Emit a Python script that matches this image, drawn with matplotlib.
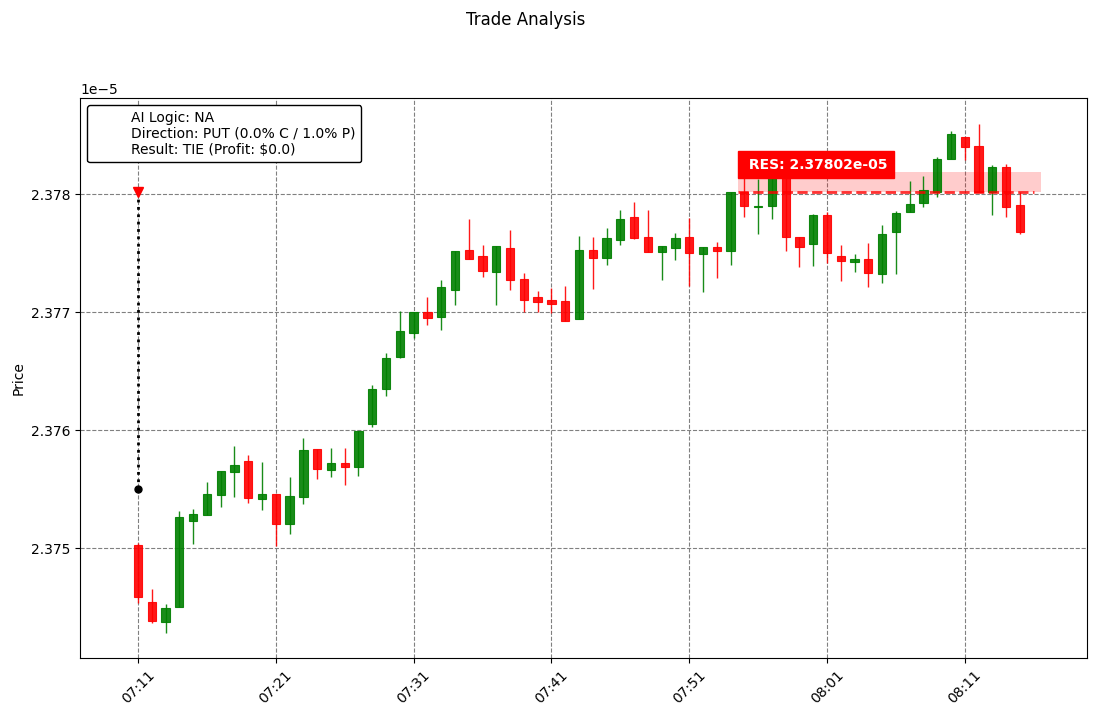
import matplotlib
matplotlib.use("Agg")
import matplotlib.pyplot as plt
import matplotlib.dates as mdates
from matplotlib.lines import Line2D
from matplotlib.ticker import ScalarFormatter
import numpy as np
from datetime import datetime, timedelta

# candle data, prices in units of 1e-5, one candle per minute from 07:11
start_time = datetime(2024, 1, 1, 7, 11)
opens = [2.375025, 2.374540, 2.374375, 2.374503, 2.375231, 2.375282, 2.375452, 2.375647, 2.375735, 2.375418,
         2.375458, 2.375206, 2.375435, 2.375836, 2.375664, 2.375718, 2.375689, 2.376051, 2.376350, 2.376621,
         2.376825, 2.377000, 2.376960, 2.377189, 2.377525, 2.377475, 2.377342, 2.377542, 2.377280, 2.377127,
         2.377102, 2.377093, 2.376938, 2.377525, 2.377460, 2.377613, 2.377805, 2.377636, 2.377511, 2.377545,
         2.377636, 2.377494, 2.377553, 2.377520, 2.378020, 2.377892, 2.377901, 2.378180, 2.377636, 2.377579,
         2.377819, 2.377475, 2.377426, 2.377447, 2.377325, 2.377681, 2.377845, 2.377921, 2.378014, 2.378294,
         2.378480, 2.378407, 2.378020, 2.378226, 2.377907]
highs = [2.375045, 2.374650, 2.374523, 2.375314, 2.375328, 2.375557, 2.375650, 2.375862, 2.375788, 2.375726,
         2.375458, 2.375604, 2.375930, 2.375836, 2.375845, 2.375845, 2.375992, 2.376381, 2.376655, 2.377011,
         2.376997, 2.377125, 2.377269, 2.377517, 2.377786, 2.377565, 2.377559, 2.377695, 2.377328, 2.377178,
         2.377203, 2.377218, 2.377644, 2.377633, 2.377709, 2.377862, 2.377935, 2.377862, 2.377559, 2.377667,
         2.377794, 2.377551, 2.377596, 2.378017, 2.378160, 2.378125, 2.378169, 2.378220, 2.377636, 2.377828,
         2.377847, 2.377565, 2.377489, 2.377582, 2.377735, 2.377856, 2.378110, 2.378155, 2.378314, 2.378534,
         2.378480, 2.378591, 2.378246, 2.378254, 2.378020]
lows = [2.374534, 2.374362, 2.374277, 2.374503, 2.375031, 2.375282, 2.375345, 2.375430, 2.375379, 2.375322,
        2.375017, 2.375116, 2.375370, 2.375582, 2.375599, 2.375531, 2.375610, 2.376028, 2.376288, 2.376613,
        2.376782, 2.376887, 2.376847, 2.377057, 2.377452, 2.377294, 2.377057, 2.377186, 2.377000, 2.377000,
        2.376989, 2.376926, 2.376938, 2.377192, 2.377396, 2.377568, 2.377621, 2.377511, 2.377269, 2.377438,
        2.377220, 2.377167, 2.377286, 2.377398, 2.377803, 2.377658, 2.377788, 2.377517, 2.377379, 2.377390,
        2.377413, 2.377263, 2.377336, 2.377214, 2.377243, 2.377319, 2.377845, 2.377892, 2.377972, 2.378294,
        2.378288, 2.378020, 2.377822, 2.377803, 2.377661]
closes = [2.374587, 2.374384, 2.374489, 2.375260, 2.375286, 2.375458, 2.375650, 2.375703, 2.375426, 2.375458,
          2.375206, 2.375438, 2.375828, 2.375672, 2.375718, 2.375689, 2.375992, 2.376345, 2.376608, 2.376839,
          2.376997, 2.376952, 2.377209, 2.377517, 2.377452, 2.377350, 2.377559, 2.377274, 2.377104, 2.377087,
          2.377070, 2.376926, 2.377525, 2.377460, 2.377627, 2.377788, 2.377630, 2.377511, 2.377559, 2.377627,
          2.377497, 2.377551, 2.377520, 2.378017, 2.377901, 2.377901, 2.378169, 2.377638, 2.377553, 2.377819,
          2.377503, 2.377435, 2.377447, 2.377333, 2.377661, 2.377836, 2.377913, 2.378034, 2.378297, 2.378508,
          2.378401, 2.378020, 2.378226, 2.377892, 2.377681]

entry_price = 2.3755
res_price = 2.37802
zone_top = 2.378186
zone_start = datetime(2024, 1, 1, 7, 54, 31)
zone_end = datetime(2024, 1, 1, 8, 16, 30)
res_line_end = datetime(2024, 1, 1, 8, 16, 0)

legend_text = "AI Logic: NA\nDirection: PUT (0.0% C / 1.0% P)\nResult: TIE (Profit: $0.0)"

scale = 1e-5
o = np.array(opens) * scale
h = np.array(highs) * scale
l = np.array(lows) * scale
c = np.array(closes) * scale
times = [start_time + timedelta(minutes=i) for i in range(len(opens))]
x = mdates.date2num(times)
colors = ['green' if cc >= oo else 'red' for oo, cc in zip(o, c)]

fig = plt.figure(figsize=(10.96, 7.16), dpi=100)
ax = fig.add_axes([0.073, 0.081, 0.9188, 0.7821])
fig.suptitle("Trade Analysis", x=0.48, y=0.985)

# wicks and bodies
width = 0.6 / 1440
ax.vlines(x, l, h, color=colors, linewidth=1, alpha=0.9, zorder=2)
ax.bar(x, np.abs(c - o), bottom=np.minimum(o, c), width=width, color=colors,
       edgecolor=colors, linewidth=0.8, alpha=0.9, zorder=3)

# entry marker
entry_x = mdates.date2num(start_time)
ax.plot([entry_x, entry_x], [entry_price * scale, res_price * scale], ':', color='black', linewidth=2, zorder=4)
ax.plot(entry_x, entry_price * scale, 'o', color='black', markersize=5, zorder=5)
ax.plot(entry_x, res_price * scale, 'v', color='red', markersize=7, zorder=5)

# resistance zone
zx = mdates.date2num([zone_start, zone_end])
ax.fill_between(zx, res_price * scale, zone_top * scale, color='red', alpha=0.2, linewidth=0, zorder=1)
ax.plot([zx[0], mdates.date2num(res_line_end)], [res_price * scale] * 2, '--', color='red',
        linewidth=2, alpha=0.8, zorder=4)
ax.text(zx[0] + 0.45 / 1440, 2.37825 * scale, f" RES: {res_price * scale:.5e}",
        color='white', fontweight='bold', fontsize=10, va='center', ha='left', zorder=6,
        bbox=dict(boxstyle='square,pad=0.45', facecolor='red', edgecolor='red'))

leg = ax.legend([Line2D([], [], color='none')], [legend_text], loc='upper left',
                framealpha=1, edgecolor='black')
leg.set_zorder(10)

ax.set_xlim(x[0] - 4.21 / 1440, x[0] + 68.87 / 1440)
ax.set_ylim(2.374068 * scale, 2.378814 * scale)
ax.xaxis.set_major_locator(mdates.MinuteLocator(byminute=[1, 11, 21, 31, 41, 51]))
ax.xaxis.set_major_formatter(mdates.DateFormatter('%H:%M'))
ax.yaxis.set_major_formatter(ScalarFormatter(useOffset=False))
ax.set_yticks(np.array([2.375, 2.376, 2.377, 2.378]) * scale)
plt.setp(ax.get_xticklabels(), rotation=45)
ax.set_ylabel("Price")
ax.grid(True, linestyle='--', color='gray', linewidth=0.8)
ax.set_axisbelow(True)

fig.savefig("out.png", dpi=100)
